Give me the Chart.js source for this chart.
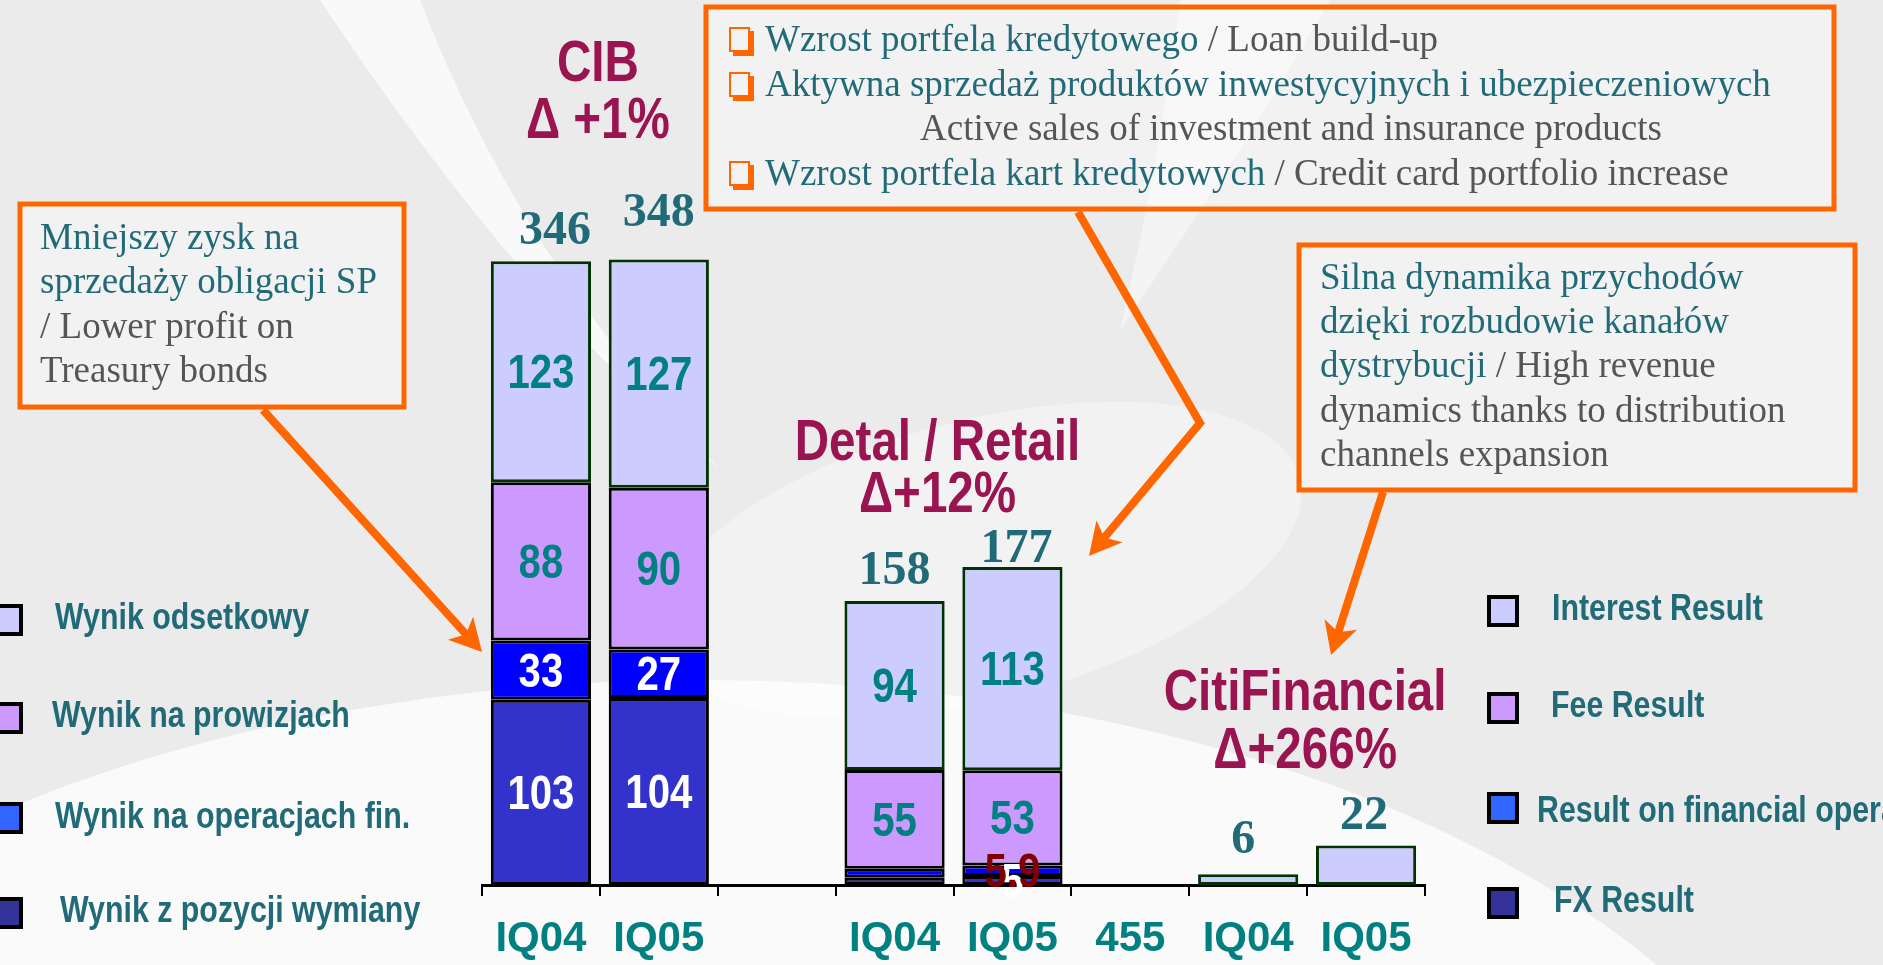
<!DOCTYPE html>
<html>
<head>
<meta charset="utf-8">
<title>Wynik segmentów IQ04 / IQ05</title>
<script src="https://cdn.jsdelivr.net/npm/chart.js@4.4.1/dist/chart.umd.min.js"></script>
<style>
  html, body { margin: 0; padding: 0; background: #ececec; overflow: hidden; }
  canvas { display: block; }
</style>
</head>
<body>
<canvas id="chart" width="1883" height="965"></canvas>
<script>
// categories (empty slot between CIB and Retail, "455" between Retail and CitiFinancial)
const labels = ['IQ04', 'IQ05', '', 'IQ04', 'IQ05', '455', 'IQ04', 'IQ05'];

// stacked from the bottom up
const fxResult       = [103, 104, null, 4, 5, null, null, null];
const finOpResult    = [33, 27, null, 5, 5.9, null, null, null];
const feeResult      = [88, 90, null, 55, 53, null, null, null];
const interestResult = [123, 127, null, 94, 113, null, 6, 22];

// totals printed above the bars
const totals = [346, 348, null, 158, 177, null, 6, 22];

// which categories get the numbers inside the segments
const segLabelCats = [0, 1, 3, 4];
const smallLabelCats = [4];

// fonts
function hasFont(name) {
  const c = document.createElement('canvas').getContext('2d');
  c.font = 'bold 40px monospace';
  const a = c.measureText('IQ04 Wynik odsetkowy').width;
  c.font = "bold 40px '" + name + "', monospace";
  const b = c.measureText('IQ04 Wynik odsetkowy').width;
  return a !== b;
}
const HAS_NARROW = hasFont('Liberation Sans Narrow');
const NARROW = HAS_NARROW ? "'Liberation Sans Narrow', 'Arial Narrow', sans-serif" : "'Liberation Sans', Arial, sans-serif";
const SERIF = "'Liberation Serif', 'Times New Roman', serif";

const TEAL_TEXT = '#216B79';
const GRAY_TEXT = '#555555';
const ORANGE = '#FF6600';
const TITLE = '#9B1452';

// narrow bold text; squeezes the regular face if no narrow one is installed
function narrowText(ctx, txt, x, y, size, color, align, baseline) {
  ctx.save();
  ctx.fillStyle = color;
  ctx.textAlign = align || 'center';
  ctx.textBaseline = baseline || 'middle';
  ctx.font = 'bold ' + size + 'px ' + NARROW;
  if (HAS_NARROW) {
    ctx.fillText(txt, x, y);
  } else {
    ctx.translate(x, y);
    ctx.scale(0.82, 1);
    ctx.fillText(txt, 0, 0);
  }
  ctx.restore();
}

function runs(ctx, parts, x, y, size) {
  ctx.save();
  ctx.font = size + 'px ' + SERIF;
  ctx.textAlign = 'left';
  ctx.textBaseline = 'middle';
  let cx = x;
  parts.forEach(p => {
    ctx.fillStyle = p[1];
    ctx.fillText(p[0], cx, y);
    cx += ctx.measureText(p[0]).width;
  });
  ctx.restore();
}

function arrow(ctx, pts) {
  const n = pts.length;
  const tip = pts[n - 1], prev = pts[n - 2];
  const ang = Math.atan2(tip[1] - prev[1], tip[0] - prev[0]);
  const L = 32, W = 17;
  const cos = Math.cos(ang), sin = Math.sin(ang);
  ctx.save();
  ctx.strokeStyle = ORANGE;
  ctx.fillStyle = ORANGE;
  ctx.lineWidth = 8;
  ctx.lineJoin = 'miter';
  ctx.beginPath();
  ctx.moveTo(pts[0][0], pts[0][1]);
  for (let i = 1; i < n - 1; i++) ctx.lineTo(pts[i][0], pts[i][1]);
  ctx.lineTo(tip[0] - cos * L * 0.7, tip[1] - sin * L * 0.7);
  ctx.stroke();
  const bx = tip[0] - cos * L, by = tip[1] - sin * L;
  ctx.beginPath();
  ctx.moveTo(tip[0], tip[1]);
  ctx.lineTo(bx - sin * W, by + cos * W);
  ctx.lineTo(tip[0] - cos * L * 0.75, tip[1] - sin * L * 0.75);
  ctx.lineTo(bx + sin * W, by - cos * W);
  ctx.closePath();
  ctx.fill();
  ctx.restore();
}

function box(ctx, x1, y1, x2, y2) {
  ctx.save();
  ctx.fillStyle = 'rgba(255,255,255,0.35)';
  ctx.fillRect(x1, y1, x2 - x1, y2 - y1);
  ctx.strokeStyle = ORANGE;
  ctx.lineWidth = 5;
  ctx.strokeRect(x1, y1, x2 - x1, y2 - y1);
  ctx.restore();
}

function checkbox(ctx, x, y) {
  ctx.save();
  ctx.fillStyle = ORANGE;
  ctx.fillRect(x + 4, y - 10, 21, 25);
  ctx.fillStyle = '#f3f3f3';
  ctx.fillRect(x + 2, y - 12, 17, 21);
  ctx.strokeStyle = ORANGE;
  ctx.lineWidth = 2;
  ctx.strokeRect(x + 1, y - 13, 19, 23);
  ctx.restore();
}

const backgroundPlugin = {
  id: 'backdrop',
  beforeDraw(chart) {
    const ctx = chart.ctx;
    ctx.save();
    ctx.fillStyle = '#ebebeb';
    ctx.fillRect(0, 0, chart.width, chart.height);
    ctx.fillStyle = 'rgba(255,255,255,0.7)';
    // swoosh from the top towards the CIB bars
    ctx.beginPath();
    ctx.moveTo(320, 0);
    ctx.lineTo(420, 0);
    ctx.quadraticCurveTo(520, 260, 720, 470);
    ctx.quadraticCurveTo(520, 300, 320, 0);
    ctx.fill();
    // band across the upper right
    ctx.fillStyle = 'rgba(255,255,255,0.45)';
    ctx.beginPath();
    ctx.moveTo(1180, 0);
    ctx.lineTo(1330, 0);
    ctx.quadraticCurveTo(1250, 140, 1120, 330);
    ctx.quadraticCurveTo(1160, 160, 1180, 0);
    ctx.fill();
    // light lower area
    ctx.fillStyle = 'rgba(255,255,255,0.75)';
    ctx.beginPath();
    ctx.ellipse(700, 1320, 1150, 640, 0, 0, Math.PI * 2);
    ctx.fill();
    ctx.fillStyle = 'rgba(255,255,255,0.35)';
    ctx.beginPath();
    ctx.ellipse(980, 560, 330, 140, -0.25, 0, Math.PI * 2);
    ctx.fill();
    ctx.restore();
  }
};

const segLabelColor = ['#FFFFFF', '#FFFFFF', '#008080', '#008080'];
const smallLabelColor = ['#FFFFFF', '#800000', '#008080', '#008080'];
const totalOffsets = [[14, 17], [0, 33], null, [0, 17], [4, 5], null, [-5, 21], [-2, 16]];

const labelPlugin = {
  id: 'valueLabels',
  afterDatasetsDraw(chart) {
    const ctx = chart.ctx;
    chart.data.datasets.forEach((ds, di) => {
      const meta = chart.getDatasetMeta(di);
      meta.data.forEach((bar, i) => {
        const v = ds.data[i];
        if (v == null || !segLabelCats.includes(i)) return;
        const small = v < 10;
        if (small && !smallLabelCats.includes(i)) return;
        const color = small ? smallLabelColor[di] : segLabelColor[di];
        narrowText(ctx, String(v), bar.x, (bar.y + bar.base) / 2 + 3, 49, color);
      });
    });
    const top = chart.getDatasetMeta(chart.data.datasets.length - 1);
    ctx.save();
    ctx.font = 'bold 48px ' + SERIF;
    ctx.fillStyle = TEAL_TEXT;
    ctx.textAlign = 'center';
    ctx.textBaseline = 'alphabetic';
    totals.forEach((t, i) => {
      if (t == null) return;
      const el = top.data[i];
      const off = totalOffsets[i] || [0, 14];
      ctx.fillText(String(t), el.x + off[0], el.y - off[1]);
    });
    ctx.restore();
  }
};

const groups = [
  { lines: ['CIB', 'Δ +1%'], cats: [0, 1], dx: -2, y: [65, 122] },
  { lines: ['Detal / Retail', 'Δ+12%'], cats: [3, 4], dx: -16, y: [444, 496] },
  { lines: ['CitiFinancial', 'Δ+266%'], cats: [6, 7], dx: -2, y: [694, 752] }
];

const legendLeft = [
  { text: 'Wynik odsetkowy', color: '#CCCCFF', sy: 604, tx: 55, ty: 619 },
  { text: 'Wynik na prowizjach', color: '#CC99FF', sy: 702, tx: 52, ty: 717 },
  { text: 'Wynik na operacjach fin.', color: '#3366FF', sy: 802, tx: 55, ty: 818 },
  { text: 'Wynik z pozycji wymiany', color: '#333399', sy: 897, tx: 60, ty: 912 }
];
const legendRight = [
  { text: 'Interest Result', color: '#CCCCFF', sy: 595, tx: 1552, ty: 610 },
  { text: 'Fee Result', color: '#CC99FF', sy: 692, tx: 1551, ty: 707 },
  { text: 'Result on financial operations', color: '#3366FF', sy: 792, tx: 1537, ty: 812 },
  { text: 'FX Result', color: '#333399', sy: 887, tx: 1554, ty: 902 }
];

const annotationPlugin = {
  id: 'annotations',
  afterDraw(chart) {
    const ctx = chart.ctx;
    const x = chart.scales.x;

    groups.forEach(g => {
      const cx = (x.getPixelForValue(g.cats[0]) + x.getPixelForValue(g.cats[1])) / 2 + g.dx;
      narrowText(ctx, g.lines[0], cx, g.y[0], 58, TITLE);
      narrowText(ctx, g.lines[1], cx, g.y[1], 58, TITLE);
    });

    // legends
    [legendLeft, legendRight].forEach((list, side) => {
      list.forEach(l => {
        const sx = side === 0 ? -9 : 1487;
        ctx.save();
        ctx.fillStyle = l.color;
        ctx.fillRect(sx, l.sy, 32, 32);
        ctx.strokeStyle = '#000000';
        ctx.lineWidth = 4;
        ctx.strokeRect(sx + 2, l.sy + 2, 28, 28);
        ctx.restore();
        narrowText(ctx, l.text, l.tx, l.ty, 37, TEAL_TEXT, 'left');
      });
    });

    // comment boxes
    box(ctx, 20, 204, 404, 407);
    runs(ctx, [['Mniejszy zysk na', TEAL_TEXT]], 40, 239, 37);
    runs(ctx, [['sprzedaży obligacji SP', TEAL_TEXT]], 40, 283, 37);
    runs(ctx, [['/ Lower profit on', GRAY_TEXT]], 40, 328, 37);
    runs(ctx, [['Treasury bonds', GRAY_TEXT]], 40, 372, 37);

    box(ctx, 706, 7, 1834, 209);
    checkbox(ctx, 729, 41);
    runs(ctx, [['Wzrost portfela kredytowego', TEAL_TEXT], [' / Loan build-up', GRAY_TEXT]], 765, 41, 37);
    checkbox(ctx, 729, 86);
    runs(ctx, [['Aktywna sprzedaż produktów inwestycyjnych i ubezpieczeniowych', TEAL_TEXT]], 765, 86, 37);
    ctx.save();
    ctx.font = '37px ' + SERIF;
    ctx.fillStyle = GRAY_TEXT;
    ctx.textAlign = 'center';
    ctx.textBaseline = 'middle';
    ctx.fillText('Active sales of investment and insurance products', 1291, 130);
    ctx.restore();
    checkbox(ctx, 729, 175);
    runs(ctx, [['Wzrost portfela kart kredytowych', TEAL_TEXT], [' / Credit card portfolio increase', GRAY_TEXT]], 765, 175, 37);

    box(ctx, 1299, 245, 1855, 490);
    runs(ctx, [['Silna dynamika przychodów', TEAL_TEXT]], 1320, 279, 37);
    runs(ctx, [['dzięki rozbudowie kanałów', TEAL_TEXT]], 1320, 323, 37);
    runs(ctx, [['dystrybucji', TEAL_TEXT], [' / High revenue', GRAY_TEXT]], 1320, 367, 37);
    runs(ctx, [['dynamics thanks to distribution', GRAY_TEXT]], 1320, 412, 37);
    runs(ctx, [['channels expansion', GRAY_TEXT]], 1320, 456, 37);

    // arrows from the boxes
    arrow(ctx, [[263, 410], [482, 652]]);
    arrow(ctx, [[1078, 212], [1200, 423], [1089, 556]]);
    arrow(ctx, [[1383, 492], [1331, 655]]);
  }
};

new Chart(document.getElementById('chart'), {
  type: 'bar',
  data: {
    labels: labels,
    datasets: [
      { label: 'FX Result', data: fxResult, backgroundColor: '#3333CC', borderColor: '#000000' },
      { label: 'Result on financial operations', data: finOpResult, backgroundColor: '#0000FF', borderColor: '#000000' },
      { label: 'Fee Result', data: feeResult, backgroundColor: '#CC99FF', borderColor: '#000000' },
      { label: 'Interest Result', data: interestResult, backgroundColor: '#CCCCFF', borderColor: '#003300' }
    ]
  },
  options: {
    responsive: false,
    animation: false,
    layout: { padding: { left: 482, right: 458, top: 94, bottom: -17 } },
    datasets: {
      bar: { barPercentage: 0.85, categoryPercentage: 1, borderWidth: 3, borderSkipped: false }
    },
    scales: {
      x: {
        stacked: true,
        grid: { display: true, drawOnChartArea: false, drawTicks: true, tickLength: 11, color: '#000000', lineWidth: 2, offset: true },
        border: { display: true, color: '#000000', width: 3 },
        ticks: {
          color: '#008080',
          font: { family: NARROW, size: 42, weight: 'bold', lineHeight: 1 },
          padding: 22,
          maxRotation: 0,
          autoSkip: false
        }
      },
      y: { stacked: true, display: false, min: 0, max: 440 }
    },
    plugins: { legend: { display: false }, tooltip: { enabled: false } }
  },
  plugins: [backgroundPlugin, labelPlugin, annotationPlugin]
});
</script>
</body>
</html>
